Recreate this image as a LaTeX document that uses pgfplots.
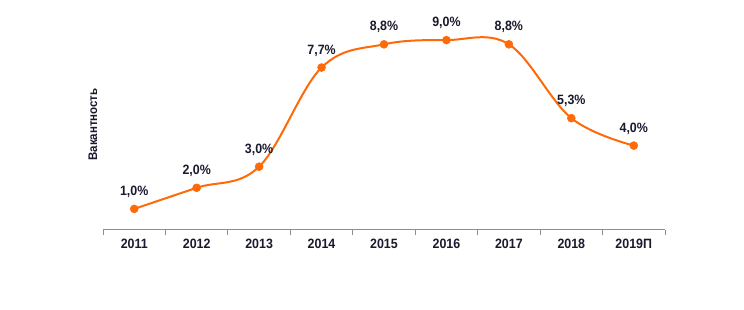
\documentclass[border=0pt]{standalone}
\usepackage{fontspec}
\setmainfont{Liberation Sans}[FakeStretch=0.92]
\usepackage{pgfplots}
\pgfplotsset{compat=1.18}
\definecolor{lineor}{HTML}{FF6A08}
\definecolor{txt}{HTML}{1A1A2E}
\definecolor{axgray}{HTML}{8C8C8C}
\begin{document}
\begin{tikzpicture}
\path[use as bounding box] (0pt,0pt) rectangle (744pt,310pt);
\begin{axis}[
  at={(103pt,80pt)}, anchor=south west,
  scale only axis, width=562pt, height=211pt,
  xmin=-0.5, xmax=8.5, ymin=0, ymax=10,
  axis x line*=bottom, axis y line*=left,
  y axis line style={draw=none},
  x axis line style={draw=axgray, line width=1pt},
  ytick=\empty,
  xtick={0,...,8},
  xticklabels={2011,2012,2013,2014,2015,2016,2017,2018,2019П},
  major tick length=0pt,
  minor xtick={-0.5,0.5,...,8.5},
  minor tick length=5pt,
  xtick align=outside,
  minor tick style={draw=axgray, line width=1pt},
  tick label style={font=\fontsize{13.5}{15}\selectfont\bfseries, text=txt},
  xticklabel style={yshift=-6pt},
  /pgf/number format/assume math mode=true,
  ylabel={Вакантность},
  ylabel style={at={(axis description cs:-0.0178,0.5)}, anchor=center, font=\fontsize{12.5}{14}\selectfont\bfseries, text=txt},
  nodes near coords={\pgfmathprintnumber[fixed,fixed zerofill,precision=1,use comma,assume math mode=true]{\pgfplotspointmeta}\%},
  every node near coord/.append style={anchor=south, inner sep=0pt, yshift=11pt, font=\fontsize{13.5}{15}\selectfont\bfseries, text=txt},
  clip=false,
]
\addplot[color=lineor, line width=2pt, smooth, tension=0.6, mark=*, mark size=4pt, mark options={solid, fill=lineor, draw=lineor, line width=0.5pt}]
coordinates {(0,1.0) (1,2.0) (2,3.0) (3,7.7) (4,8.8) (5,9.0) (6,8.8) (7,5.3) (8,4.0)};
\end{axis}
\end{tikzpicture}
\end{document}
